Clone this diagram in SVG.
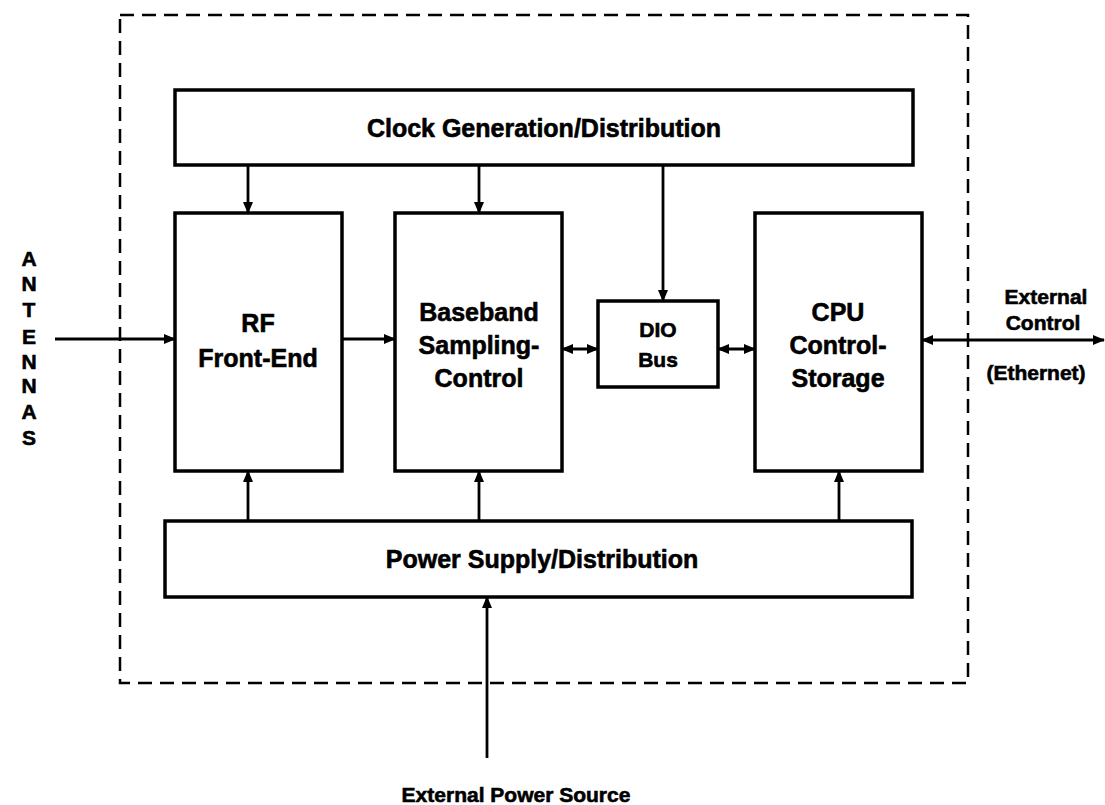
<svg xmlns="http://www.w3.org/2000/svg" width="1105" height="805" viewBox="0 0 1105 805">
<style>
.box{fill:#fff;stroke:#000;stroke-width:3.5}
.lbl{font-family:"Liberation Sans",Arial,Helvetica,sans-serif;font-weight:bold;fill:#000;stroke:#000;stroke-width:0.6;text-anchor:middle}
.big{font-size:25px}
.mid{font-size:21px}
.con{stroke:#000;stroke-width:2.8;fill:none}
.dash{fill:none;stroke:#000;stroke-width:2.5;stroke-dasharray:14 8}
</style>
<defs>
<marker id="arr" markerUnits="userSpaceOnUse" markerWidth="12" markerHeight="10" refX="11" refY="5" orient="auto-start-reverse">
<path d="M0,0 L12,5 L0,10 z" fill="#000"/>
</marker>
</defs>
<rect width="1105" height="805" fill="#fff"/>
<rect id="boundary" class="dash" x="120" y="15" width="848" height="668"/>
<g id="clock">
<rect class="box" x="175" y="90" width="738" height="75"/>
<text class="lbl big" x="544" y="137">Clock Generation/Distribution</text>
</g>
<g id="rf">
<rect class="box" x="175" y="213" width="167" height="258"/>
<text class="lbl big" x="258" y="332">RF</text>
<text class="lbl big" x="258" y="367">Front-End</text>
</g>
<g id="baseband">
<rect class="box" x="395" y="213" width="167" height="258"/>
<text class="lbl big" x="479" y="321">Baseband</text>
<text class="lbl big" x="479" y="354">Sampling-</text>
<text class="lbl big" x="479" y="387">Control</text>
</g>
<g id="dio">
<rect class="box" x="598" y="301" width="120" height="86"/>
<text class="lbl mid" x="658" y="337">DIO</text>
<text class="lbl mid" x="658" y="367">Bus</text>
</g>
<g id="cpu">
<rect class="box" x="755" y="213" width="167" height="258"/>
<text class="lbl big" x="838" y="321">CPU</text>
<text class="lbl big" x="838" y="354">Control-</text>
<text class="lbl big" x="838" y="387">Storage</text>
</g>
<g id="power">
<rect class="box" x="165" y="521" width="747" height="76"/>
<text class="lbl big" x="542" y="568">Power Supply/Distribution</text>
</g>
<g id="antennas">
<text class="lbl mid" x="29" y="266">A</text>
<text class="lbl mid" x="29" y="291">N</text>
<text class="lbl mid" x="29" y="317">T</text>
<text class="lbl mid" x="29" y="344">E</text>
<text class="lbl mid" x="29" y="369">N</text>
<text class="lbl mid" x="29" y="393">N</text>
<text class="lbl mid" x="29" y="419">A</text>
<text class="lbl mid" x="29" y="445">S</text>
</g>
<g id="external-control">
<text class="lbl mid" x="1046" y="304">External</text>
<text class="lbl mid" x="1043" y="330">Control</text>
<text class="lbl mid" x="1036" y="380">(Ethernet)</text>
</g>
<g id="external-power">
<text class="lbl mid" x="516" y="802">External Power Source</text>
</g>
<g id="connectors">
<line class="con" x1="248" y1="165" x2="248" y2="213" marker-end="url(#arr)"/>
<line class="con" x1="479" y1="165" x2="479" y2="213" marker-end="url(#arr)"/>
<line class="con" x1="663" y1="165" x2="663" y2="301" marker-end="url(#arr)"/>
<line class="con" x1="248" y1="521" x2="248" y2="471" marker-end="url(#arr)"/>
<line class="con" x1="479" y1="521" x2="479" y2="471" marker-end="url(#arr)"/>
<line class="con" x1="839" y1="521" x2="839" y2="471" marker-end="url(#arr)"/>
<line class="con" x1="487" y1="758" x2="487" y2="597" marker-end="url(#arr)"/>
<line class="con" x1="55" y1="339" x2="175" y2="339" marker-end="url(#arr)"/>
<line class="con" x1="342" y1="339" x2="395" y2="339" marker-end="url(#arr)"/>
<line class="con" x1="562" y1="349" x2="598" y2="349" marker-start="url(#arr)" marker-end="url(#arr)"/>
<line class="con" x1="718" y1="349" x2="755" y2="349" marker-start="url(#arr)" marker-end="url(#arr)"/>
<line class="con" x1="922" y1="340" x2="1104" y2="340" marker-start="url(#arr)" marker-end="url(#arr)"/>
</g>
</svg>
